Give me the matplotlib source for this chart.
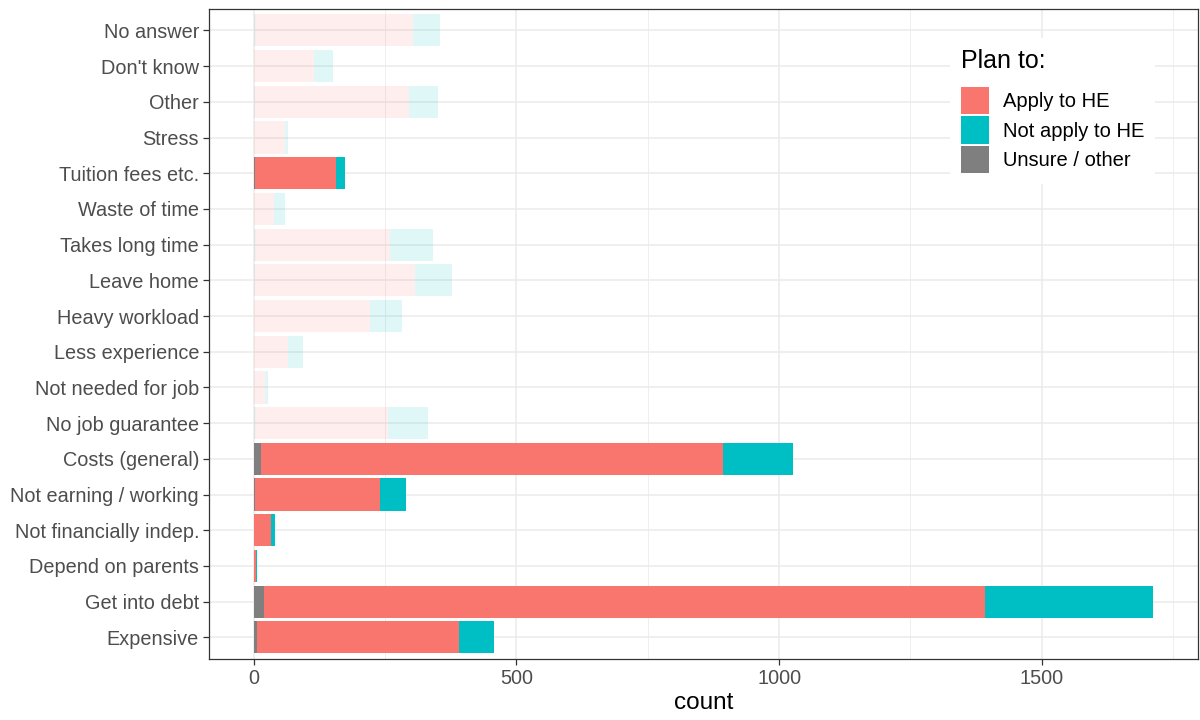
import numpy as np
import matplotlib
matplotlib.use("Agg")
import matplotlib.pyplot as plt
from matplotlib.patches import Patch

plt.rcParams["font.family"] = ["Liberation Sans", "DejaVu Sans"]

# categories, bottom to top
categories = ["Expensive", "Get into debt", "Depend on parents", "Not financially indep.",
              "Not earning / working", "Costs (general)", "No job guarantee",
              "Not needed for job", "Less experience", "Heavy workload", "Leave home",
              "Takes long time", "Waste of time", "Tuition fees etc.", "Stress",
              "Other", "Don't know", "No answer"]
unsure = [6, 19, 0, 1, 3, 13, 5, 0, 1, 1, 2, 4, 0, 2, 0, 2, 1, 4]
apply_he = [385, 1372, 4, 31, 237, 880, 251, 22, 65, 221, 304, 255, 38, 155, 59, 293, 113, 300]
not_apply = [66, 320, 2, 9, 50, 133, 75, 6, 27, 60, 71, 83, 21, 16, 6, 56, 36, 50]
# finance-related reasons are highlighted, the rest are faded
highlight = [True, True, True, True, True, True, False, False, False, False, False,
             False, False, True, False, False, False, False]

series = [("Unsure / other", unsure, "#7F7F7F"),
          ("Apply to HE", apply_he, "#F8766D"),
          ("Not apply to HE", not_apply, "#00BFC4")]

fig = plt.figure(figsize=(12, 7.2), dpi=100)
ax = fig.add_axes([0.174, 0.085, 0.824, 0.9025])

y = np.arange(len(categories))
left = np.zeros(len(categories))
for name, vals, col in series:
    vals = np.array(vals, dtype=float)
    for i in range(len(categories)):
        ax.barh(y[i], vals[i], left=left[i], height=0.9, color=col,
                alpha=1.0 if highlight[i] else 0.12, lw=0, zorder=2)
    left += vals

total_max = left.max()
ax.set_xlim(-0.05 * total_max, 1.05 * total_max)
ax.set_ylim(-0.6, len(categories) - 0.4)
ax.set_yticks(y)
ax.set_yticklabels(categories)
ax.set_xticks([0, 500, 1000, 1500])
ax.set_xticks([250, 750, 1250, 1750], minor=True)

ax.grid(True, which="major", color="#EBEBEB", lw=1.1, zorder=0)
ax.grid(True, which="minor", axis="x", color="#EBEBEB", lw=0.55, zorder=0)
ax.set_axisbelow(True)
for s in ax.spines.values():
    s.set_color("#333333")
    s.set_linewidth(0.9)
ax.tick_params(which="major", length=4, width=0.9, color="#333333",
               labelsize=14.3, labelcolor="#4D4D4D", pad=3)
ax.tick_params(which="minor", length=0)
ax.set_xlabel("count", fontsize=17.5, labelpad=3)

handles = [Patch(facecolor=c, edgecolor="none", label=n)
           for n, _, c in [series[1], series[2], series[0]]]
leg = ax.legend(handles=handles, title="Plan to:", loc="upper right",
                bbox_to_anchor=(0.957, 0.955), frameon=True, fontsize=14.5,
                title_fontsize=18, handlelength=1.35, handleheight=1.7,
                handletextpad=0.7, labelspacing=0.1, borderpad=0.55,
                borderaxespad=0)
leg.get_frame().set_facecolor("white")
leg.get_frame().set_edgecolor("none")
leg.get_frame().set_alpha(1.0)
leg.get_frame().set_boxstyle("square", pad=0)
leg._legend_box.align = "left"
leg._legend_box.sep = 10

fig.savefig("out.png", dpi=100)
